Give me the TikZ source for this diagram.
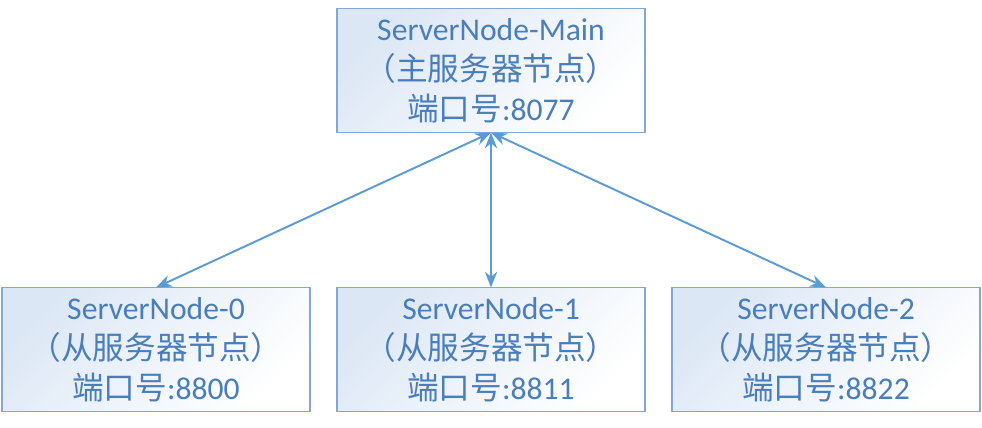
\documentclass[tikz,border=0pt]{standalone}
\usepackage{fontspec}
\setmainfont{Carlito}
\newfontfamily\cjk{Noto Sans CJK SC}
\usetikzlibrary{positioning,arrows.meta}

\definecolor{boxline}{RGB}{130,168,210}
\definecolor{boxfill}{RGB}{220,231,245}
\definecolor{boxtext}{RGB}{74,126,187}
\definecolor{linkline}{RGB}{91,155,213}

\tikzset{
  server/.style={draw=boxline, line width=0.8pt, top color=boxfill, bottom color=white,
    shading angle=45, minimum width=6.16cm, minimum height=2.48cm, inner sep=0pt,
    outer sep=0pt, align=center, text=boxtext,
    font=\fontsize{18}{22.8}\selectfont},
  link/.style={linkline, line width=1.1pt, {Stealth[length=9pt,width=7pt]}-{Stealth[length=9pt,width=7pt]}}
}

\begin{document}
\begin{tikzpicture}
    \useasboundingbox (0,0) rectangle (19.64,-8.54);
    % main server
    \node[server] (main) at (9.82,-1.41)
      {ServerNode-Main\\{\cjk （主服务器节点）}\\{\cjk 端口号}:8077};
    % slave servers
    \node[server, below=3.1cm of main] (node1)
      {ServerNode-1\\{\cjk （从服务器节点）}\\{\cjk 端口号}:8811};
    \node[server, left=0.54cm of node1] (node0)
      {ServerNode-0\\{\cjk （从服务器节点）}\\{\cjk 端口号}:8800};
    \node[server, right=0.54cm of node1] (node2)
      {ServerNode-2\\{\cjk （从服务器节点）}\\{\cjk 端口号}:8822};
    % links
    \draw[link] (main.south) -- (node0.north);
    \draw[link] (main.south) -- (node1.north);
    \draw[link] (main.south) -- (node2.north);
\end{tikzpicture}
\end{document}
